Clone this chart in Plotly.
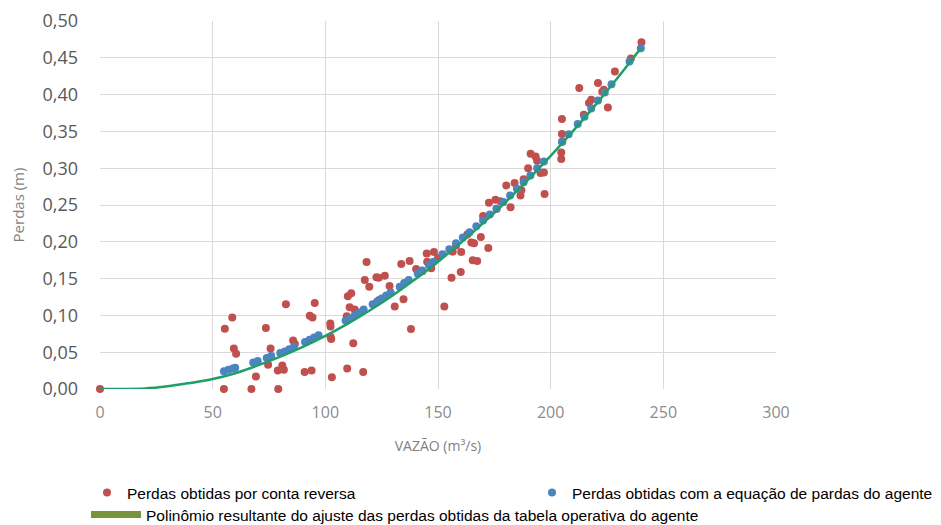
import plotly.graph_objects as go

# ---- data ----
red_x = [0, 55.4, 58.7, 59.4, 60.4, 55.0, 67.2, 69.2, 73.6, 75.7, 74.6, 79.1, 78.9, 80.9, 81.6,
         82.5, 85.7, 86.5, 90.8, 93.9, 93.1, 94.3, 95.3, 102.2, 102.3, 102.3, 102.6, 102.9,
         109.7, 112.4, 116.8, 110.0, 111.5, 110.8, 113.0, 117.5, 119.5, 118.3, 122.7, 123.7,
         126.4, 128.5, 130.8, 134.7, 133.7, 137.4, 138.0, 140.3, 141.0, 145.0, 148.2, 145.2,
         147.0, 152.8, 156.5, 160.3, 156.0, 160.1, 164.8, 166.0, 165.4, 167.4, 169.0, 172.3,
         180.3, 182.2, 172.6, 175.5, 177.8, 186.6, 197.3, 191.1, 193.3, 195.5, 197.0, 204.7,
         204.7, 205.2, 205.0, 205.0, 212.7, 217.0, 218.0, 214.7, 221.0, 222.9, 223.6, 225.4,
         228.5, 235.6, 240.3, 143.0, 150.0, 158.0, 163.0, 170.0, 176.0, 184.0, 188.0, 190.0,
         194.0, 187.0, 123.9, 109.5]
red_y = [0.0, 0.082, 0.097, 0.055, 0.048, 0.0, 0.0, 0.017, 0.083, 0.055, 0.033, 0.0, 0.025, 0.032,
         0.026, 0.115, 0.066, 0.061, 0.023, 0.025, 0.0995, 0.097, 0.117, 0.089, 0.085, 0.071,
         0.068, 0.016, 0.028, 0.062, 0.023, 0.126, 0.130, 0.111, 0.108, 0.148, 0.139, 0.1725,
         0.152, 0.151, 0.154, 0.140, 0.112, 0.122, 0.170, 0.174, 0.0815, 0.163, 0.160, 0.184,
         0.186, 0.173, 0.164, 0.112, 0.1865, 0.186, 0.151, 0.159, 0.199, 0.198, 0.175, 0.174,
         0.2065, 0.1915, 0.2765, 0.247, 0.253, 0.257, 0.255, 0.263, 0.265, 0.3197, 0.316,
         0.2935, 0.294, 0.3125, 0.3215, 0.336, 0.3465, 0.367, 0.409, 0.3886, 0.393, 0.3727,
         0.4157, 0.404, 0.4066, 0.3826, 0.4315, 0.449, 0.471, 0.160, 0.178, 0.195, 0.210,
         0.235, 0.245, 0.280, 0.285, 0.300, 0.310, 0.270, 0.121, 0.0987]

blue_x = [55, 57, 59, 60, 68, 70, 74, 76, 80, 82, 84, 86, 91, 93, 95, 97, 109, 111, 113, 115,
          117, 121, 123, 125, 127, 129, 133, 135, 137, 141, 143, 146, 148, 152, 155, 158, 161,
          164, 167, 170, 173, 176, 179, 182, 185, 188, 191, 194, 197, 205, 208, 212, 215, 218,
          221, 224, 227, 235, 240]
blue_y = [0.024, 0.026, 0.028, 0.029, 0.036, 0.038, 0.042, 0.045, 0.049, 0.051, 0.054, 0.057,
          0.064, 0.067, 0.070, 0.073, 0.093, 0.096, 0.100, 0.104, 0.108, 0.115, 0.119, 0.123,
          0.127, 0.131, 0.139, 0.144, 0.148, 0.157, 0.161, 0.168, 0.173, 0.183, 0.190, 0.198,
          0.206, 0.213, 0.221, 0.229, 0.237, 0.245, 0.254, 0.263, 0.272, 0.281, 0.290, 0.300,
          0.309, 0.336, 0.346, 0.360, 0.370, 0.381, 0.392, 0.403, 0.414, 0.445, 0.463]

poly_x = [0, 10, 20, 30, 40, 50, 60, 70, 80, 90, 100, 110, 120, 130, 140, 150, 160, 170, 180,
          190, 200, 210, 220, 230, 240]
poly_y = [0.0, 0.0, 0.0006, 0.0036, 0.0082, 0.0135, 0.0215, 0.0320, 0.0440, 0.0572, 0.0722,
          0.0889, 0.1073, 0.1275, 0.1493, 0.1730, 0.1983, 0.2253, 0.2541, 0.2846, 0.3168,
          0.3507, 0.3864, 0.4238, 0.4629]

x_ticks = [0, 50, 100, 150, 200, 250, 300]
y_ticks = [0.0, 0.05, 0.10, 0.15, 0.20, 0.25, 0.30, 0.35, 0.40, 0.45, 0.50]

name_red = "Perdas obtidas por conta reversa"
name_blue = "Perdas obtidas com a equação de pardas do agente"
name_green = "Polinômio resultante do ajuste das perdas obtidas da tabela operativa do agente"

W, H = 941, 525
fig = go.Figure()
fig.add_trace(go.Scatter(x=red_x, y=red_y, mode="markers", name=name_red, cliponaxis=False,
                         marker=dict(color="#c0504d", size=8, line=dict(width=0)),
                         legend="legend"))
fig.add_trace(go.Scatter(x=blue_x, y=blue_y, mode="markers", name=name_blue,
                         marker=dict(color="#4a85c0", size=8, line=dict(width=0)),
                         legend="legend2"))
fig.add_trace(go.Scatter(x=poly_x, y=poly_y, mode="lines", name=name_green,
                         line=dict(color="#1f9e68", width=2.5, shape="spline"),
                         showlegend=False))
# legend swatch for the polynomial (Excel shows it olive in the legend)
fig.add_trace(go.Scatter(x=[None], y=[None], mode="lines", name=name_green,
                         line=dict(color="#77933c", width=7), legend="legend3"))

axis_font = dict(family="Open Sans", size=18, color="#595959")
leg_font = dict(family="Liberation Sans, Arial", size=15.5, color="#000000")

def leg(xpx, ypx, itemwidth=30):
    return dict(x=xpx / W, y=1 - ypx / H, xref="container", yref="container",
                xanchor="left", yanchor="middle", orientation="h",
                bgcolor="rgba(0,0,0,0)", font=leg_font, itemwidth=itemwidth,
                borderwidth=0)

fig.update_layout(
    width=W, height=H, autosize=False,
    margin=dict(l=100, r=165, t=21, b=136, autoexpand=False),
    paper_bgcolor="white", plot_bgcolor="white",
    separators=",.",
    xaxis=dict(range=[0, 300], tickvals=x_ticks, showgrid=True, gridcolor="#d9d9d9",
               gridwidth=1, zeroline=False, showline=False, ticks="",
               tickfont=dict(family="Open Sans", size=16, color="#8c8c8c"),
               ticklabelstandoff=12,
               title=dict(text="VAZÃO (m³/s)", standoff=19,
                          font=dict(family="Open Sans", size=14, color="#7f7f7f"))),
    yaxis=dict(range=[0, 0.5], tickvals=y_ticks, tickformat=".2f", showgrid=True,
               gridcolor="#d9d9d9", gridwidth=1, zeroline=False, showline=False, ticks="",
               tickfont=axis_font, ticklabelstandoff=21,
               title=dict(text="Perdas (m)", standoff=14,
                          font=dict(family="Open Sans", size=15, color="#7f7f7f"))),
    legend=leg(87, 493),
    legend2=leg(532, 493),
    legend3=leg(86, 515, itemwidth=50),
    showlegend=True,
)

fig.write_html("out.html", config={"displayModeBar": False},
               post_script="document.body.style.margin='0';document.body.style.overflow='hidden';")
